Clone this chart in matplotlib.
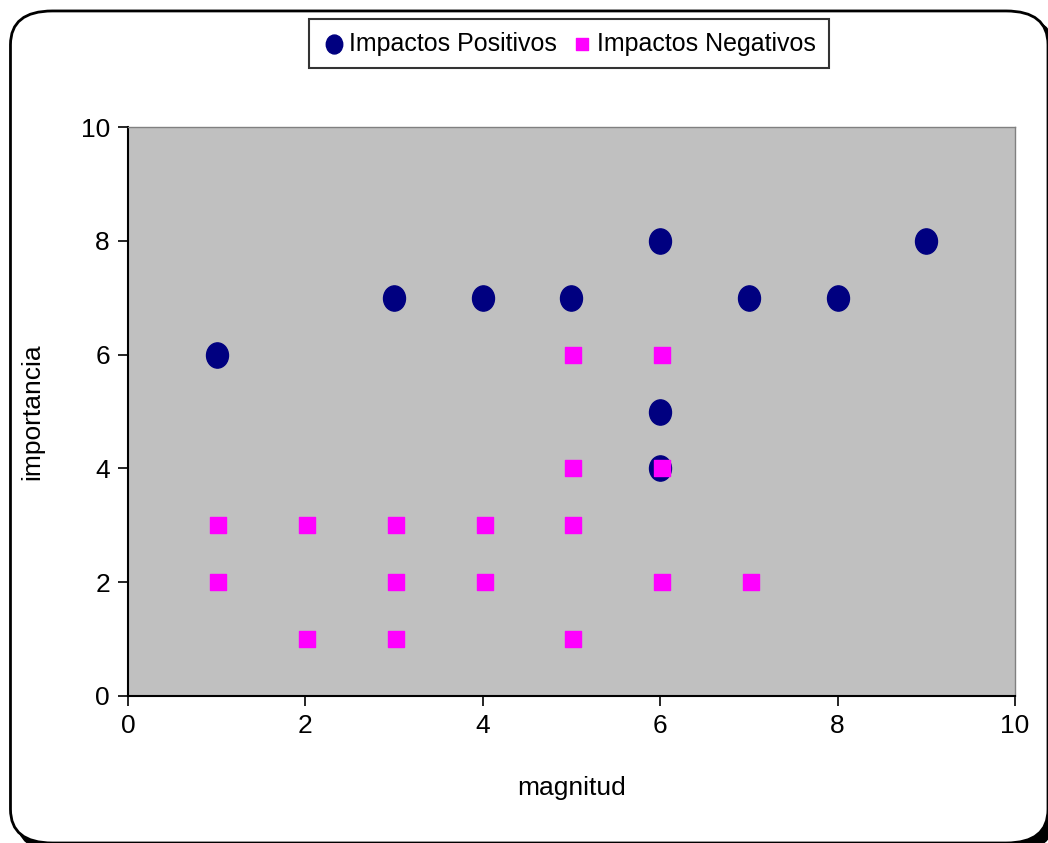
import numpy as np
import matplotlib
matplotlib.use('Agg')
import matplotlib.pyplot as plt
from matplotlib.patches import FancyBboxPatch
from matplotlib.path import Path

plt.rcParams['font.family'] = ['Liberation Sans', 'DejaVu Sans']

# Impactos positivos
pos_x = [1, 3, 4, 5, 6, 6, 6, 7, 8, 9]
pos_y = [6, 7, 7, 7, 8, 5, 4, 7, 7, 8]

# Impactos negativos
neg_x = [1, 1, 2, 2, 3, 3, 3, 4, 4, 5, 5, 5, 5, 6, 6, 6, 7]
neg_y = [3, 2, 3, 1, 3, 2, 1, 3, 2, 6, 4, 3, 1, 6, 4, 2, 2]

ticks = [0, 2, 4, 6, 8, 10]

# elipse un poco mas alta que ancha
circ = Path.unit_circle()
elipse = Path(circ.vertices * np.array([0.87, 1.0]), circ.codes)

fig = plt.figure(figsize=(10.48, 8.43), dpi=100)

# marco redondeado con sombra
sombra = FancyBboxPatch((0.016, -0.01), 0.99, 0.99, boxstyle='round,pad=0,rounding_size=0.04',
                        transform=fig.transFigure, facecolor='black', edgecolor='black', zorder=0)
marco = FancyBboxPatch((0.01, 0.0), 0.99, 0.987, boxstyle='round,pad=0,rounding_size=0.04',
                       transform=fig.transFigure, facecolor='white', edgecolor='black',
                       linewidth=2, zorder=1)
fig.patches.extend([sombra, marco])

ax = fig.add_axes([0.1221, 0.1744, 0.8464, 0.6749])
ax.set_facecolor('#C0C0C0')
ax.set_zorder(2)

ax.scatter(pos_x, pos_y, s=330, marker=elipse, color='#000080', label='Impactos Positivos', zorder=3)
ax.scatter([x + 0.02 for x in neg_x], neg_y, s=135, marker='s', color='#FF00FF',
           label='Impactos Negativos', zorder=4)

ax.set_xlim(0, 10)
ax.set_ylim(0, 10)
ax.set_xticks(ticks)
ax.set_yticks(ticks)
ax.tick_params(labelsize=19, length=7, width=1.2, color='black', pad=6)
ax.set_xlabel('magnitud', fontsize=19, labelpad=27)
ax.set_ylabel('importancia', fontsize=19, labelpad=26)

for s in ['top', 'right']:
    ax.spines[s].set_color('#808080')
    ax.spines[s].set_linewidth(1)
for s in ['left', 'bottom']:
    ax.spines[s].set_color('black')
    ax.spines[s].set_linewidth(1.5)

leg = fig.legend(loc='center', bbox_to_anchor=(0.543, 0.948), ncol=2, fontsize=18,
                 frameon=True, fancybox=False, edgecolor='black', handletextpad=0.1,
                 columnspacing=0.5, borderpad=0.5, handlelength=1.0, markerscale=0.75)
leg.get_frame().set_linewidth(1.5)
leg.set_zorder(5)

fig.savefig('out.png', dpi=100)
